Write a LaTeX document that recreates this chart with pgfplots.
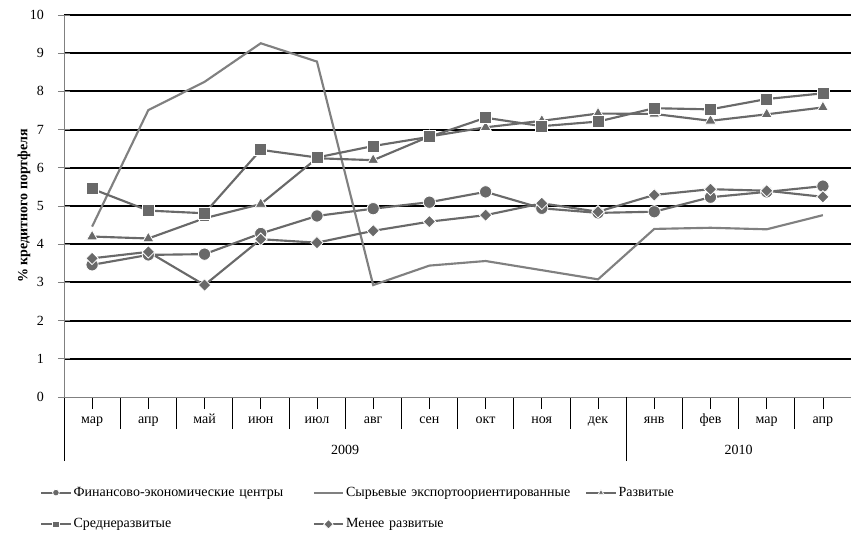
\documentclass[border=0pt]{standalone}
\usepackage{fontspec}
\setmainfont{Liberation Serif}
\usepackage{pgfplots}
\pgfplotsset{compat=1.18}
\definecolor{ser}{RGB}{105,105,105}
\definecolor{raw}{RGB}{128,128,128}
\pgfplotstableread{
x fin raw dev mid less
0  3.46 4.46 4.20 5.45 3.63
1  3.72 7.51 4.15 4.88 3.80
2  3.74 8.25 4.68 4.81 2.93
3  4.28 9.26 5.05 6.47 4.13
4  4.74 8.78 6.25 6.27 4.04
5  4.93 2.93 6.20 6.57 4.35
6  5.10 3.44 6.82 6.81 4.59
7  5.37 3.56 7.06 7.31 4.76
8  4.94 3.32 7.23 7.09 5.07
9  4.82 3.08 7.42 7.21 4.85
10 4.85 4.40 7.41 7.56 5.29
11 5.23 4.43 7.23 7.53 5.44
12 5.37 4.39 7.40 7.80 5.40
13 5.52 4.76 7.58 7.95 5.24
}\data
\begin{document}
\begin{tikzpicture}
\begin{axis}[
  at={(0,0)}, anchor=south west,
  width=590.25pt, height=286.5pt, scale only axis,
  xmin=-0.5, xmax=13.5, ymin=0, ymax=10,
  clip=false,
  axis lines*=left,
  axis line style={draw=gray, line width=0.7pt},
  ytick={1,...,10},
  extra y ticks={0},
  extra y tick style={grid=none},
  ymajorgrids,
  grid style={black, line width=1.4pt},
  y tick style={draw=gray, line width=0.7pt},
  ytick align=center,
  major tick length=9pt,
  /pgf/number format/assume math mode=true,
  ticklabel style={font=\rmfamily\fontsize{10.5}{12}\selectfont},
  yticklabel style={anchor=east, xshift=-7pt},
  xtick={0,...,13},
  xticklabels={мар,апр,май,июн,июл,авг,сен,окт,ноя,дек,янв,фев,мар,апр},
  x tick style={draw=black, line width=0.5pt},
  xtick align=outside,
  xmajorticks=true,
  xticklabel style={anchor=base, yshift=-11pt},
  minor xtick={0.5,1.5,2.5,3.5,4.5,5.5,6.5,7.5,8.5,10.5,11.5,12.5},
  minor tick length=24pt,
  extra x ticks={-0.5,9.5},
  extra x tick labels={},
  extra x tick style={major tick length=48pt, xtick align=outside},
  ylabel={\textbf{\% кредитного портфеля}},
  ylabel style={at={(axis description cs:-0.0508,0.5)}, anchor=center, font=\rmfamily\fontsize{10.5}{12}\selectfont},
  legend columns=3,
  legend style={draw=none, fill=none, at={(axis description cs:-0.0355,-0.221)}, anchor=north west,
    font=\rmfamily\fontsize{10.5}{12}\selectfont, row sep=11.25pt,
    nodes={text width=178pt, align=left, inner xsep=1.5pt}},
  legend cell align=left,
  legend image code/.code={\draw[#1, line width=1.4pt, mark size=2.5pt, mark repeat=2, mark phase=2] plot coordinates {(0pt,0pt)(11pt,0pt)(22pt,0pt)};},
]
\addplot[ser, line width=1.6pt, mark=*, mark size=4.6pt, mark options={draw=white, line width=0.6pt, fill=ser}] table[x=x,y=fin] {\data};
\addlegendentry{Финансово-экономические центры}
\addplot[raw, line width=1.6pt] table[x=x,y=raw] {\data};
\addlegendentry{Сырьевые экспортоориентированные}
\addplot[ser, line width=1.6pt, mark=triangle*, mark size=4.8pt, mark options={draw=white, line width=0.6pt, fill=ser}] table[x=x,y=dev] {\data};
\addlegendentry{Развитые}
\addplot[ser, line width=1.6pt, mark=square*, mark size=4.5pt, mark options={draw=white, line width=0.6pt, fill=ser}] table[x=x,y=mid] {\data};
\addlegendentry{Среднеразвитые}
\addplot[ser, line width=1.6pt, mark=square*, mark size=3.3pt, mark options={draw=white, line width=0.6pt, fill=ser, rotate=45}] table[x=x,y=less] {\data};
\addlegendentry{Менее развитые}
\node[font=\rmfamily\fontsize{10.5}{12}\selectfont, anchor=base] at ([yshift=-43pt]axis cs:4.5,0) {2009};
\node[font=\rmfamily\fontsize{10.5}{12}\selectfont, anchor=base] at ([yshift=-43pt]axis cs:11.5,0) {2010};
\end{axis}
\pgfresetboundingbox
\useasboundingbox (-48pt,-102pt) rectangle (597pt,297.75pt);
\end{tikzpicture}
\end{document}
